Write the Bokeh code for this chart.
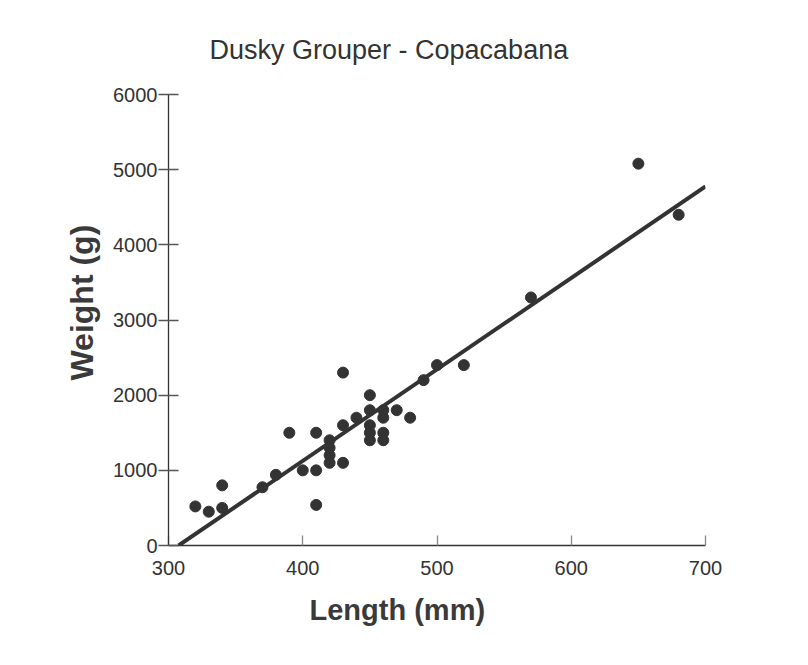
from bokeh.plotting import figure
from bokeh.models import FixedTicker, Title, Range1d
from bokeh.embed import file_html
from bokeh.resources import INLINE

# ---- data ----
length_mm = [320, 330, 340, 340, 370, 380, 390, 400, 410, 410, 410,
             420, 420, 420, 420, 430, 430, 430, 440,
             450, 450, 450, 450, 450, 460, 460, 460, 460,
             470, 480, 490, 500, 520, 570, 650, 680]
weight_g = [520, 450, 500, 800, 775, 940, 1500, 1000, 1500, 1000, 540,
            1400, 1300, 1200, 1100, 2300, 1600, 1100, 1700,
            2000, 1800, 1600, 1500, 1400, 1800, 1700, 1500, 1400,
            1800, 1700, 2200, 2400, 2400, 3300, 5080, 4400]
fit_length = [307.5, 700]
fit_weight = [0, 4776]

x_ticks = [300, 400, 500, 600, 700]
y_ticks = [0, 1000, 2000, 3000, 4000, 5000, 6000]
title_text = "Dusky Grouper - Copacabana"
x_label = "Length (mm)"
y_label = "Weight (g)"

FONT = "Liberation Sans"
DARK = "#333333"

p = figure(width=800, height=657,
           x_range=Range1d(300, 700), y_range=Range1d(0, 6000),
           output_backend="svg", toolbar_location=None,
           min_border_left=168, min_border_right=95,
           min_border_top=94, min_border_bottom=112)

p.outline_line_color = None
p.grid.visible = False
p.background_fill_color = "white"
p.border_fill_color = "white"

# title
p.title.text = title_text
p.title.align = "left"
p.title.offset = 41
p.title.standoff = 60
p.title.text_font = FONT
p.title.text_font_size = "27px"
p.title.text_font_style = "normal"
p.title.text_color = DARK

# axes
for ax in (p.xaxis[0], p.yaxis[0]):
    ax.axis_line_color = DARK
    ax.axis_line_width = 1.3
    ax.major_label_text_font = FONT
    ax.major_label_text_font_size = "20px"
    ax.major_label_text_color = DARK
    ax.minor_tick_line_color = None

p.xaxis.ticker = FixedTicker(ticks=x_ticks)
p.yaxis.ticker = FixedTicker(ticks=y_ticks)
p.xaxis.major_tick_in = 10
p.xaxis.major_tick_out = 0
p.xaxis.major_tick_line_color = "#888888"
p.xaxis.major_tick_line_width = 1.3
p.xaxis.major_label_standoff = 15
p.yaxis.major_tick_in = 10
p.yaxis.major_tick_out = 10
p.yaxis.major_tick_line_color = "#555555"
p.yaxis.major_tick_line_width = 1.3
p.yaxis.major_label_standoff = 1

# axis labels as offset titles (labels are not centred on the frame)
xt = Title(text=x_label, align="left", offset=141, standoff=28,
           text_font=FONT, text_font_size="29px", text_font_style="bold",
           text_color="#3a3a3a")
p.add_layout(xt, "below")
yt = Title(text=y_label, align="left", offset=165, standoff=22,
           text_font=FONT, text_font_size="32px", text_font_style="bold",
           text_color="#3a3a3a")
p.add_layout(yt, "left")

# marks
p.line(fit_length, fit_weight, line_width=4, line_color=DARK)
p.scatter(length_mm, weight_g, size=11, fill_color=DARK, line_color=DARK)

open("out.html", "w").write(file_html(p, INLINE))
